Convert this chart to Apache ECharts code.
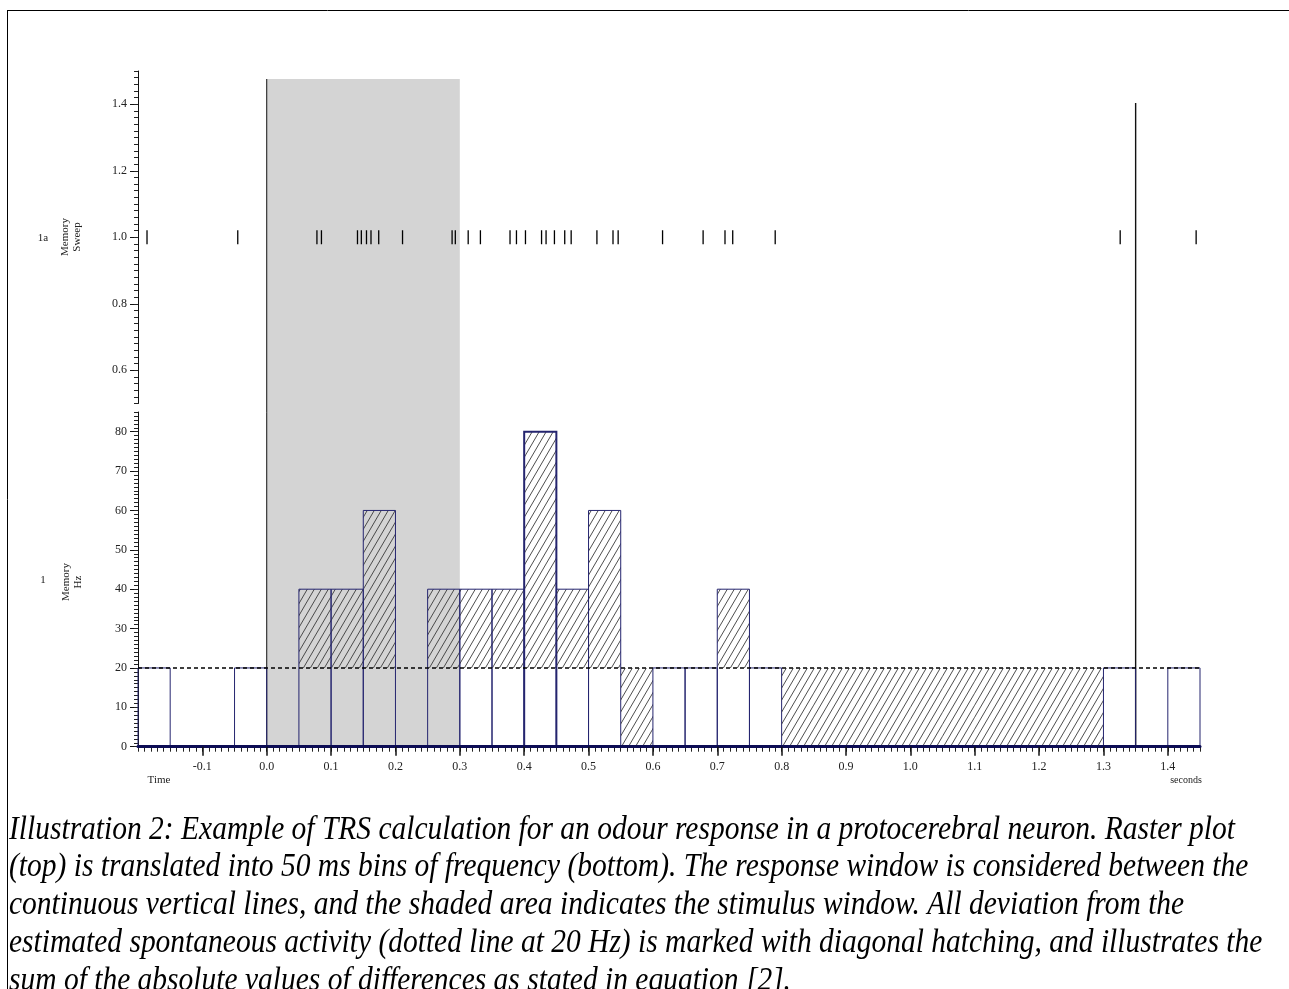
<!DOCTYPE html>
<html><head><meta charset="utf-8">
<script src="https://cdn.jsdelivr.net/npm/echarts@6/dist/echarts.min.js"></script>
<style>html,body{margin:0;padding:0;background:#fff}#chart{width:1289px;height:989px}</style>
</head><body><div id="chart"></div>
<script>
// ---------------- data ----------------
const timeMin = -0.2, timeMax = 1.45;
const binWidth = 0.05;
const binStarts = [-0.2,-0.15,-0.1,-0.05,0.0,0.05,0.1,0.15,0.2,0.25,0.3,0.35,0.4,0.45,0.5,0.55,0.6,0.65,0.7,0.75,0.8,0.85,0.9,0.95,1.0,1.05,1.1,1.15,1.2,1.25,1.3,1.35,1.4];
const rateHz    = [20,0,0,20,0,40,40,60,0,40,40,40,80,40,60,0,20,20,40,20,0,0,0,0,0,0,0,0,0,0,20,0,20];
const hatched   = [0,0,0,0,0,1,1,1,0,1,1,1,1,1,1,1,0,0,1,0,1,1,1,1,1,1,1,1,1,1,0,0,0];
const spontRate = 20;
const spikeTimes = [-0.186,-0.045,0.078,0.085,0.141,0.147,0.155,0.162,0.174,0.211,0.288,0.293,0.313,0.332,0.378,0.388,0.402,0.427,0.434,0.447,0.463,0.473,0.513,0.538,0.546,0.615,0.678,0.712,0.724,0.790,1.326,1.444];
const sweepLevel = 1.0;
const stimulusWindow = [0.0, 0.3];
const responseWindow = [0.0, 1.35];
const xTicks = [-0.1,0.0,0.1,0.2,0.3,0.4,0.5,0.6,0.7,0.8,0.9,1.0,1.1,1.2,1.3,1.4];
const ySweepTicks = [0.6,0.8,1.0,1.2,1.4];
const yRateTicks = [0,10,20,30,40,50,60,70,80];
const captionLines = [
  "Illustration 2: Example of TRS calculation for an odour response in a protocerebral neuron. Raster plot",
  "(top) is translated into 50 ms bins of frequency (bottom). The response window is considered between the",
  "continuous vertical lines, and the shaded area indicates the stimulus window. All deviation from the",
  "estimated spontaneous activity (dotted line at 20 Hz) is marked with diagonal hatching, and illustrates the",
  "sum of the absolute values of differences as stated in equation [2]."
];
// --------------------------------------

const serif = '"Liberation Serif", "DejaVu Serif", serif';
const navy = '#25256f';

const hatchCanvas = (function(){
  const c = document.createElement('canvas'); c.width = 7; c.height = 12;
  const g = c.getContext('2d');
  g.strokeStyle = '#3a3a3a'; g.lineWidth = 0.9;
  g.beginPath();
  [-7,0,7].forEach(function(dx){ g.moveTo(dx, 12); g.lineTo(dx+7, 0); });
  g.stroke();
  return c;
})();
const hatchFill = {image: hatchCanvas, repeat: 'repeat'};

const binData = binStarts.map(function(s,i){ return [s, s + binWidth, rateHz[i], hatched[i]]; });

function renderBin(params, api) {
  const x0 = api.value(0), x1 = api.value(1), v = api.value(2), h = api.value(3);
  const kids = [];
  if (h) {
    const lo = Math.min(v, spontRate), hi = Math.max(v, spontRate);
    const a = api.coord([x0, hi]), b = api.coord([x1, lo]);
    kids.push({type:'rect', shape:{x:a[0], y:a[1], width:b[0]-a[0], height:b[1]-a[1]}, style:{fill: hatchFill}});
  }
  if (v > 0) {
    const a = api.coord([x0, v]), b = api.coord([x1, 0]);
    kids.push({type:'rect', shape:{x:a[0], y:a[1], width:b[0]-a[0], height:b[1]-a[1]},
      style:{fill:'none', stroke: navy, lineWidth: v >= 80 ? 2 : 1}});
  }
  return {type:'group', children: kids};
}

function renderWindows(params, api) {
  const s0 = api.value(0), s1 = api.value(1), r0 = api.value(2), r1 = api.value(3);
  const a = api.coord([s0, 1]), b = api.coord([s1, 0]);
  const p0t = api.coord([r0, 1]), p0b = api.coord([r0, 0]);
  const p1t = api.coord([r1, 0.964]), p1b = api.coord([r1, 0]);
  return {type:'group', children:[
    {type:'rect', shape:{x:a[0], y:a[1], width:b[0]-a[0], height:b[1]-a[1]}, style:{fill:'#d4d4d4'}},
    {type:'line', shape:{x1:p0t[0], y1:p0t[1], x2:p0b[0], y2:p0b[1]}, style:{stroke:'#111', lineWidth:1}},
    {type:'line', shape:{x1:p1t[0], y1:p1t[1], x2:p1b[0], y2:p1b[1]}, style:{stroke:'#111', lineWidth:1.4}}
  ]};
}

function renderSpike(params, api) {
  const p = api.coord([api.value(0), api.value(1)]);
  return {type:'line', shape:{x1:p[0], y1:p[1]-7, x2:p[0], y2:p[1]+7}, style:{stroke:'#000', lineWidth:1.3}};
}

const mctx = document.createElement('canvas').getContext('2d');
const capFont = 'italic 33px "Liberation Serif"';
mctx.font = capFont;
const capScale = 1226 / mctx.measureText(captionLines[0]).width;

const graphics = [
  {type:'line', shape:{x1:7, y1:10.5, x2:1289, y2:10.5}, style:{stroke:'#000', lineWidth:1}},
  {type:'line', shape:{x1:7.5, y1:10, x2:7.5, y2:989}, style:{stroke:'#000', lineWidth:1}},
  {type:'text', x:43, y:238, style:{text:'1a', font:'11px ' + serif, fill:'#222', textAlign:'center', textVerticalAlign:'middle'}},
  {type:'text', x:71, y:237, rotation: Math.PI/2, style:{text:'Memory\nSweep', font:'11px ' + serif, fill:'#222', textAlign:'center', textVerticalAlign:'middle', lineHeight:12}},
  {type:'text', x:43, y:580, style:{text:'1', font:'11px ' + serif, fill:'#222', textAlign:'center', textVerticalAlign:'middle'}},
  {type:'text', x:72, y:582, rotation: Math.PI/2, style:{text:'Memory\nHz', font:'11px ' + serif, fill:'#222', textAlign:'center', textVerticalAlign:'middle', lineHeight:12}},
  {type:'text', x:159, y:780, style:{text:'Time', font:'11px ' + serif, fill:'#222', textAlign:'center', textVerticalAlign:'middle'}},
  {type:'text', x:1186, y:780, style:{text:'seconds', font:'10px ' + serif, fill:'#222', textAlign:'center', textVerticalAlign:'middle'}}
];
captionLines.forEach(function(t, i){
  graphics.push({type:'text', x:9, y:830 + i*37.8, scaleX: capScale, originX:0, originY:0,
    style:{text:t, font:capFont, fill:'#000', textAlign:'left', textVerticalAlign:'middle'}});
});

const option = {
  backgroundColor:'#fff',
  animation:false,
  grid:[
    {left:138, top:71, width:1062, height:332.5},
    {left:138, top:412, width:1062, height:334.7},
    {left:138, top:79, width:1062, height:667.7}
  ],
  xAxis:[
    {type:'value', gridIndex:1, min:timeMin, max:timeMax, position:'bottom', z:10,
      axisLine:{onZero:false, lineStyle:{color:'#0d0d55', width:3}},
      axisTick:{customValues:xTicks, length:9, lineStyle:{color:'#111', width:1.5}},
      axisLabel:{customValues:xTicks, margin:14, formatter:function(v){return v.toFixed(1);}, fontFamily:serif, fontSize:12, color:'#222'},
      splitLine:{show:false}},
    {type:'value', gridIndex:1, min:timeMin, max:timeMax, interval:0.01, position:'bottom', z:9,
      axisLine:{show:false, onZero:false}, axisTick:{length:5, lineStyle:{color:'#222', width:1}},
      axisLabel:{show:false}, splitLine:{show:false}},
    {type:'value', gridIndex:0, min:timeMin, max:timeMax, show:false},
    {type:'value', gridIndex:2, min:timeMin, max:timeMax, show:false}
  ],
  yAxis:[
    {type:'value', gridIndex:0, min:0.5, max:1.5, position:'left',
      axisLine:{show:true, onZero:false, lineStyle:{color:'#111', width:1}},
      axisTick:{show:true, customValues:ySweepTicks, length:8, lineStyle:{color:'#111'}},
      axisLabel:{customValues:ySweepTicks, margin:11, formatter:function(v){return v.toFixed(1);}, fontFamily:serif, fontSize:12, color:'#222'},
      splitLine:{show:false}},
    {type:'value', gridIndex:0, min:0.5, max:1.5, interval:0.02, position:'left',
      axisLine:{show:false, onZero:false}, axisTick:{show:true, length:4, lineStyle:{color:'#222'}},
      axisLabel:{show:false}, splitLine:{show:false}},
    {type:'value', gridIndex:1, min:0, max:85, position:'left',
      axisLine:{show:true, onZero:false, lineStyle:{color:'#111', width:1}},
      axisTick:{show:true, customValues:yRateTicks, length:8, lineStyle:{color:'#111'}},
      axisLabel:{customValues:yRateTicks, margin:11, fontFamily:serif, fontSize:12, color:'#222'},
      splitLine:{show:false}},
    {type:'value', gridIndex:1, min:0, max:85, interval:1, position:'left',
      axisLine:{show:false, onZero:false}, axisTick:{show:true, length:4, lineStyle:{color:'#222'}},
      axisLabel:{show:false}, splitLine:{show:false}},
    {type:'value', gridIndex:2, min:0, max:1, show:false}
  ],
  series:[
    {type:'custom', xAxisIndex:3, yAxisIndex:4, z:1, silent:true,
      renderItem:renderWindows,
      data:[[stimulusWindow[0], stimulusWindow[1], responseWindow[0], responseWindow[1]]]},
    {type:'custom', xAxisIndex:2, yAxisIndex:0, z:3, silent:true,
      renderItem:renderSpike, encode:{x:0, y:1},
      data:spikeTimes.map(function(t){return [t, sweepLevel];})},
    {type:'custom', xAxisIndex:0, yAxisIndex:2, z:3, silent:true,
      renderItem:renderBin, encode:{x:[0,1], y:2},
      data:binData},
    {type:'line', xAxisIndex:0, yAxisIndex:2, z:4, silent:true, symbol:'none',
      lineStyle:{color:'#000', width:1.4, type:[4,3]},
      data:[[timeMin, spontRate],[timeMax, spontRate]]}
  ],
  graphic: graphics
};

const chart = echarts.init(document.getElementById('chart'), null, {renderer:'canvas'});
chart.setOption(option);
</script>
</body></html>
